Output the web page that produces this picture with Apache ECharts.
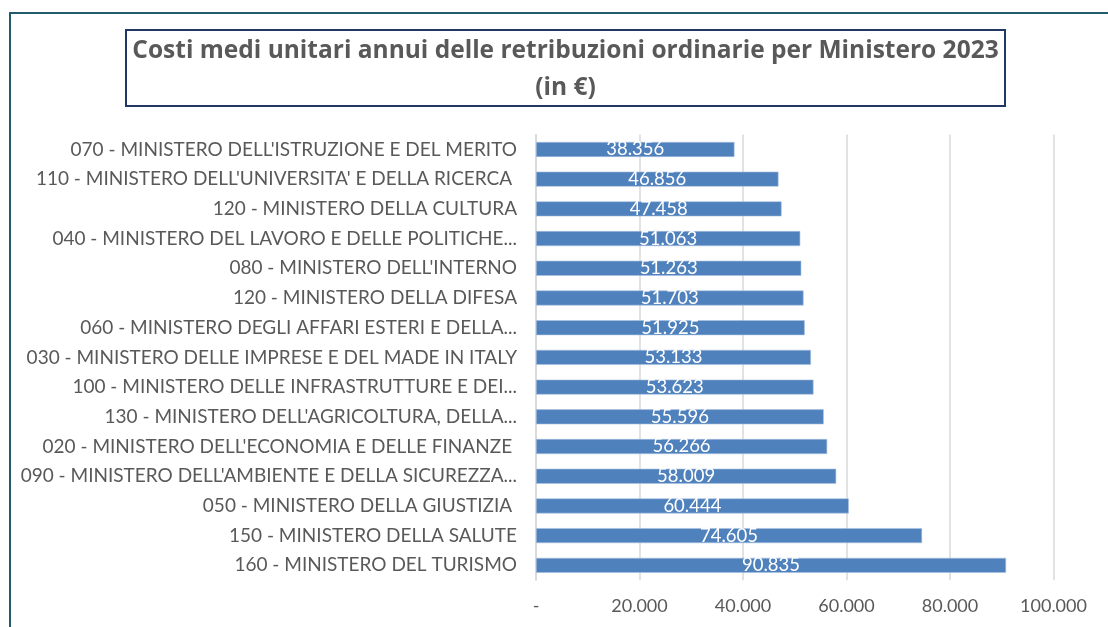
<!DOCTYPE html>
<html>
<head>
<meta charset="utf-8">
<script src="https://cdn.jsdelivr.net/npm/echarts@6/dist/echarts.min.js"></script>
<style>
html,body{margin:0;padding:0;background:#fff;}
#chart{width:1108px;height:627px;}
</style>
</head>
<body>
<div id="chart"></div>
<script>
const titleLine1 = "Costi medi unitari annui delle retribuzioni ordinarie per Ministero 2023";
const titleLine2 = "(in €)";
const categories = [
  "070 - MINISTERO DELL'ISTRUZIONE E DEL MERITO",
  "110 - MINISTERO DELL'UNIVERSITA' E DELLA RICERCA ",
  "120 - MINISTERO DELLA CULTURA",
  "040 - MINISTERO DEL LAVORO E DELLE POLITICHE...",
  "080 - MINISTERO DELL'INTERNO",
  "120 - MINISTERO DELLA DIFESA",
  "060 - MINISTERO DEGLI AFFARI ESTERI E DELLA...",
  "030 - MINISTERO DELLE IMPRESE E DEL MADE IN ITALY",
  "100 - MINISTERO DELLE INFRASTRUTTURE E DEI...",
  "130 - MINISTERO DELL'AGRICOLTURA, DELLA...",
  "020 - MINISTERO DELL'ECONOMIA E DELLE FINANZE ",
  "090 - MINISTERO DELL'AMBIENTE E DELLA SICUREZZA...",
  "050 - MINISTERO DELLA GIUSTIZIA ",
  "150 - MINISTERO DELLA SALUTE",
  "160 - MINISTERO DEL TURISMO"
];
const values = [38356, 46856, 47458, 51063, 51263, 51703, 51925, 53133, 53623, 55596, 56266, 58009, 60444, 74605, 90835];
const tickValues = [0, 20000, 40000, 60000, 80000, 100000];

function fmtIt(v) {
  if (v === 0) return '-';
  return String(Math.round(v)).replace(/\B(?=(\d{3})+(?!\d))/g, '.');
}

const FONT = 'Lato, "Open Sans", sans-serif';
const TFONT = '"Open Sans", Lato, sans-serif';
const chart = echarts.init(document.getElementById('chart'), null, {renderer: 'canvas'});
chart.setOption({
  animation: false,
  backgroundColor: '#ffffff',
  graphic: [
    {type: 'rect', shape: {x: 10, y: 13, width: 1120, height: 640},
     style: {fill: 'none', stroke: '#245b6a', lineWidth: 2}, silent: true},
    {type: 'rect', shape: {x: 126, y: 30, width: 879, height: 76},
     style: {fill: '#ffffff', stroke: '#1f3864', lineWidth: 2}, silent: true},
    {type: 'text', x: 565.5, y: 51,
     style: {text: titleLine1, fill: '#595959', font: 'bold 24.5px ' + TFONT, align: 'center', verticalAlign: 'middle'}},
    {type: 'text', x: 565.5, y: 88.5,
     style: {text: titleLine2, fill: '#595959', font: 'bold 24.5px ' + TFONT, align: 'center', verticalAlign: 'middle'}}
  ],
  grid: {left: 536, right: 54.5, top: 134.6, bottom: 46.8, containLabel: false},
  xAxis: {
    type: 'value', min: 0, max: 100000, interval: 20000,
    axisLine: {show: false}, axisTick: {show: false},
    splitLine: {show: true, lineStyle: {color: '#d9d9d9', width: 1.5}},
    axisLabel: {color: '#595959', fontSize: 18, fontFamily: FONT, margin: 17,
      formatter: function (v) { return tickValues.indexOf(v) >= 0 ? fmtIt(v) : ''; }}
  },
  yAxis: {
    type: 'category', data: categories, inverse: true,
    axisLine: {show: true, lineStyle: {color: '#d9d9d9', width: 1.5}},
    axisTick: {show: false},
    axisLabel: {color: '#595959', fontSize: 19, fontFamily: FONT, margin: 19}
  },
  series: [{
    type: 'bar', data: values, barWidth: 15,
    itemStyle: {color: '#4f81bd', borderColor: '#a9c1e0', borderWidth: 0.6},
    label: {show: true, position: 'inside', color: '#ffffff', fontSize: 18.5, fontFamily: FONT,
      formatter: function (p) { return fmtIt(p.value); }}
  }]
});
</script>
</body>
</html>
